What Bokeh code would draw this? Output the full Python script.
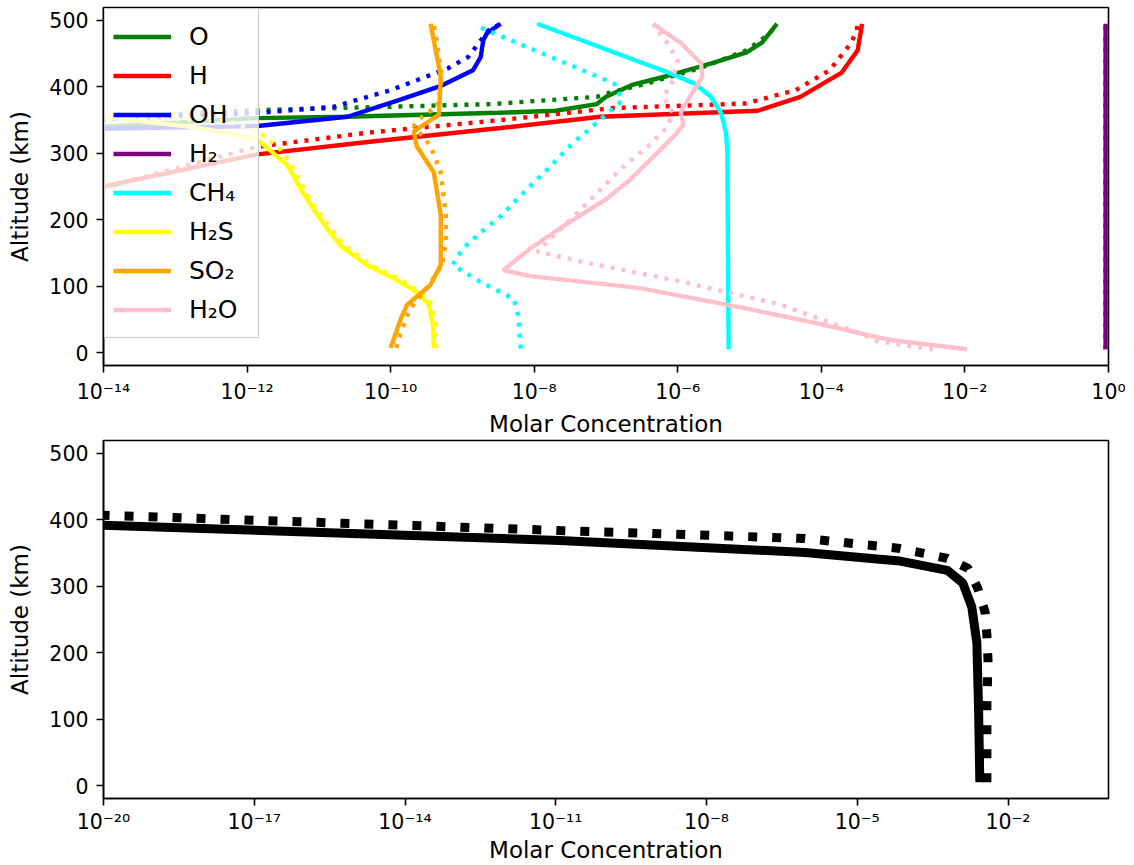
from bokeh.plotting import figure
from bokeh.layouts import column
from bokeh.models import Range1d, FixedTicker, CustomJSTickFormatter, Legend, LegendItem
from bokeh.embed import file_html
from bokeh.resources import INLINE

# ---------------- tick labels ----------------
top_x_ticks = [1e-14, 1e-12, 1e-10, 1e-8, 1e-6, 1e-4, 1e-2, 1e0]
top_x_labels = ["10⁻¹⁴", "10⁻¹²", "10⁻¹⁰", "10⁻⁸", "10⁻⁶", "10⁻⁴", "10⁻²", "10⁰"]
bot_x_ticks = [1e-20, 1e-17, 1e-14, 1e-11, 1e-8, 1e-5, 1e-2]
bot_x_labels = ["10⁻²⁰", "10⁻¹⁷", "10⁻¹⁴", "10⁻¹¹", "10⁻⁸", "10⁻⁵", "10⁻²"]
y_ticks = [0, 100, 200, 300, 400, 500]

species = ["O", "H", "OH", "H₂", "CH₄", "H₂S", "SO₂", "H₂O"]
colors = ["green", "red", "blue", "purple", "cyan", "yellow", "orange", "pink"]

# ---------------- top panel data (altitude km, molar concentration) ----------------
O_alt = [330, 340, 353, 355, 361, 364, 374, 385, 403, 416, 436, 452, 467, 495]
O_conc = [1e-20, 1e-14, 1.3e-12, 2.4e-11, 3.2e-9, 2.0e-8, 7.4e-8, 1.0e-7, 2.3e-7, 6.9e-7, 3.1e-6, 9.1e-6, 1.5e-5, 2.4e-5]
O_dot_alt = [340, 354, 365, 374, 385, 392, 405, 428, 455, 480, 495]
O_dot_conc = [1e-20, 1e-14, 1.4e-12, 2.5e-9, 7.4e-8, 1.2e-7, 3.7e-7, 2.0e-6, 9.1e-6, 1.9e-5, 2.4e-5]

H_alt = [220, 250, 298, 317, 338, 355, 364, 385, 421, 455, 495]
H_conc = [1e-16, 1e-14, 1.3e-12, 4.8e-11, 3.4e-9, 8.3e-8, 1.3e-5, 5.1e-5, 1.9e-4, 3.2e-4, 3.7e-4]
H_dot_alt = [215, 248, 310, 331, 350, 368, 375, 395, 425, 466, 485, 495]
H_dot_conc = [1e-16, 1e-14, 1.4e-12, 4.8e-11, 3.4e-9, 1.2e-7, 8.7e-6, 4.4e-5, 1.3e-4, 2.6e-4, 3.1e-4, 3.2e-4]

OH_alt = [325, 337, 341, 355, 380, 401, 425, 445, 470, 481, 495]
OH_conc = [1e-20, 1e-14, 1.4e-12, 2.5e-11, 1.3e-10, 4.9e-10, 1.4e-9, 1.8e-9, 1.95e-9, 2.2e-9, 3.4e-9]
OH_dot_alt = [340, 351, 361, 370, 395, 428, 445, 485, 495]
OH_dot_conc = [1e-20, 1e-14, 1.5e-12, 1.6e-11, 1.0e-10, 6.3e-10, 1.2e-9, 2.3e-9, 3.4e-9]

H2_alt = [5, 495]
H2_conc = [0.91, 0.91]
H2_dot_alt = [5, 495]
H2_dot_conc = [0.91, 0.91]

CH4_alt = [5, 306, 331, 361, 385, 405, 422, 495]
CH4_conc = [5.1e-6, 4.9e-6, 4.7e-6, 4.0e-6, 2.9e-6, 1.7e-6, 7.2e-7, 1.1e-8]
CH4_dot_alt = [6, 55, 81, 106, 132, 156, 181, 205, 226, 275, 316, 355, 380, 405, 445, 485, 492]
CH4_dot_conc = [6.5e-9, 6.0e-9, 5.2e-9, 1.8e-9, 7.3e-10, 1.0e-9, 1.8e-9, 3.4e-9, 5.2e-9, 1.5e-8, 3.5e-8,
                9.3e-8, 1.7e-7, 1.3e-7, 1.7e-8, 2.2e-9, 1.6e-9]

H2S_alt = [7, 42, 72, 87, 97, 112, 131, 161, 187, 221, 246, 281, 318, 326, 339, 355, 370]
H2S_conc = [4.0e-10, 3.9e-10, 3.4e-10, 2.6e-10, 1.9e-10, 1.1e-10, 4.8e-11, 2.0e-11, 1.3e-11, 7.8e-12, 5.6e-12,
            3.7e-12, 1.5e-12, 9e-13, 1.9e-13, 1e-14, 1e-16]
H2S_dot_alt = [7, 42, 72, 87, 97, 112, 131, 161, 187, 221, 246, 281, 306, 331, 348, 356, 370]
H2S_dot_conc = [4.3e-10, 4.2e-10, 3.7e-10, 2.9e-10, 2.1e-10, 1.25e-10, 5.4e-11, 2.3e-11, 1.45e-11, 8.6e-12, 6.3e-12,
                4.2e-12, 2.9e-12, 1.5e-12, 5.5e-13, 1e-14, 1e-16]

SO2_alt = [7, 52, 72, 102, 132, 206, 271, 311, 333, 358, 415, 495]
SO2_conc = [1.0e-10, 1.4e-10, 1.7e-10, 3.6e-10, 5.0e-10, 5.0e-10, 4.0e-10, 2.3e-10, 2.1e-10, 4.7e-10, 5.0e-10, 3.6e-10]
SO2_dot_alt = [7, 32, 67, 97, 132, 166, 206, 271, 311, 341, 358, 370, 415, 495]
SO2_dot_conc = [1.2e-10, 1.4e-10, 1.9e-10, 3.2e-10, 5.2e-10, 5.9e-10, 5.9e-10, 5.0e-10, 3.6e-10, 2.1e-10, 2.9e-10,
                4.5e-10, 5.2e-10, 4.0e-10]

H2O_alt = [5, 18, 22, 45, 66, 97, 115, 124, 157, 191, 231, 261, 325, 343, 361, 381, 415, 436, 466, 495]
H2O_conc = [1.07e-2, 1.1e-3, 6.6e-4, 7.8e-5, 9.3e-6, 3.0e-7, 8.9e-9, 3.7e-9, 8.9e-9, 2.6e-8, 1.0e-7, 2.2e-7,
            8.7e-7, 1.2e-6, 1.1e-6, 1.4e-6, 2.2e-6, 2.1e-6, 1.1e-6, 4.5e-7]
H2O_dot_alt = [5, 18, 27, 72, 107, 137, 152, 216, 276, 310, 340, 361, 385, 410, 440, 470, 492]
H2O_dot_conc = [3.6e-3, 5.4e-4, 3.9e-4, 2.7e-5, 1.1e-6, 4.5e-8, 1.1e-8, 4.5e-8, 1.6e-7, 3.8e-7, 7.2e-7, 8.5e-7,
                6.3e-7, 8.5e-7, 1.0e-6, 6.8e-7, 4.6e-7]

# ---------------- bottom panel data ----------------
tot_alt = [5, 114, 215, 269, 305, 324, 338, 342, 351, 369, 392, 402]
tot_conc = [2.75e-3, 2.6e-3, 2.4e-3, 1.9e-3, 1.26e-3, 6.2e-4, 7.1e-5, 1.9e-5, 9.1e-7, 1.2e-11, 1e-20, 1e-24]
tot_dot_alt = [5, 47, 119, 189, 227, 261, 297, 327, 342, 350, 357, 372, 384, 407, 417]
tot_dot_conc = [3.8e-3, 3.8e-3, 3.8e-3, 4.0e-3, 3.8e-3, 3.5e-3, 2.5e-3, 1.6e-3, 6.2e-4, 2.0e-4, 7.1e-5, 9.1e-7,
                1.2e-11, 1e-20, 1e-24]

solid_series = [(O_conc, O_alt), (H_conc, H_alt), (OH_conc, OH_alt), (H2_conc, H2_alt),
                (CH4_conc, CH4_alt), (H2S_conc, H2S_alt), (SO2_conc, SO2_alt), (H2O_conc, H2O_alt)]
dotted_series = [(O_dot_conc, O_dot_alt), (H_dot_conc, H_dot_alt), (OH_dot_conc, OH_dot_alt),
                 (H2_dot_conc, H2_dot_alt), (CH4_dot_conc, CH4_dot_alt), (H2S_dot_conc, H2S_dot_alt),
                 (SO2_dot_conc, SO2_dot_alt), (H2O_dot_conc, H2O_dot_alt)]

FONT = "DejaVu Sans"


def style(p, tvals, tlabels, label_standoff, xlabel_standoff):
    p.xaxis.ticker = FixedTicker(ticks=tvals)
    p.xaxis.formatter = CustomJSTickFormatter(args=dict(tvals=tvals, tlabels=tlabels), code="""
        let best = 0, bd = Infinity;
        for (let i = 0; i < tvals.length; i++) {
            const d = Math.abs(Math.log10(tick) - Math.log10(tvals[i]));
            if (d < bd) { bd = d; best = i; }
        }
        return tlabels[best];
    """)
    p.yaxis.ticker = FixedTicker(ticks=y_ticks)
    for ax in (p.xaxis, p.yaxis):
        ax.major_tick_out = 7
        ax.major_tick_in = 0
        ax.minor_tick_line_color = None
        ax.major_tick_line_width = 1.6
        ax.axis_line_width = 1.6
        ax.major_label_text_font = FONT
        ax.major_label_text_font_size = "20.5px"
        ax.major_label_text_color = "black"
        ax.axis_label_text_font = FONT
        ax.axis_label_text_font_size = "23px"
        ax.axis_label_text_font_style = "normal"
        ax.axis_label_text_color = "black"
    p.xaxis.major_label_standoff = label_standoff
    p.yaxis.major_label_standoff = 8
    p.xaxis.axis_label = "Molar Concentration"
    p.yaxis.axis_label = "Altitude (km)"
    p.xaxis.axis_label_standoff = xlabel_standoff
    p.yaxis.axis_label_standoff = 13
    p.xgrid.visible = False
    p.ygrid.visible = False
    p.outline_line_color = "black"
    p.outline_line_width = 1.6
    p.outline_line_alpha = 1.0


p1 = figure(width=1126, height=439, x_axis_type="log", x_range=Range1d(1e-14, 1.0),
            y_range=Range1d(-19.5, 519.5), output_backend="svg", toolbar_location=None,
            min_border_left=103, min_border_right=18, min_border_top=7, min_border_bottom=71)
style(p1, top_x_ticks, top_x_labels, 7, 4)

items = []
for name, col, (xs, ys), (dx, dy) in zip(species, colors, solid_series, dotted_series):
    r = p1.line(xs, ys, line_color=col, line_width=4.4)
    p1.line(dx, dy, line_color=col, line_width=4.4, line_dash="4 7")
    items.append(LegendItem(label=name, renderers=[r]))

legend = Legend(items=items, location="top_left", margin=1, padding=8, spacing=0,
                glyph_width=58, glyph_height=39, label_height=39, label_standoff=18, label_width=61,
                label_text_font=FONT, label_text_font_size="25px", label_text_color="black",
                border_line_color="#cccccc", border_line_width=1.5, border_line_alpha=1.0,
                background_fill_color="white", background_fill_alpha=0.8)
p1.add_layout(legend)

p2 = figure(width=1126, height=426, x_axis_type="log", x_range=Range1d(1e-20, 1.0),
            y_range=Range1d(-19.5, 519.5), output_backend="svg", toolbar_location=None,
            min_border_left=103, min_border_right=18, min_border_top=1, min_border_bottom=66)
style(p2, bot_x_ticks, bot_x_labels, 4, 0)
p2.line(tot_conc, tot_alt, line_color="black", line_width=9)
p2.line(tot_dot_conc, tot_dot_alt, line_color="black", line_width=9, line_dash="9 15")

layout = column(p1, p2)
open("out.html", "w").write(file_html(layout, INLINE))
